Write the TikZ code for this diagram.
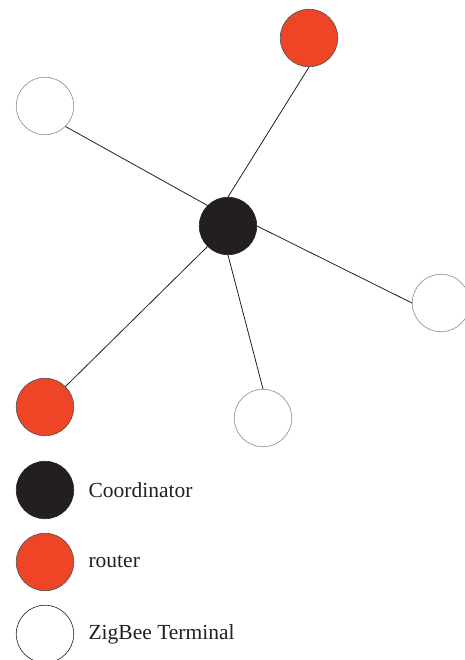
\documentclass[tikz,border=0pt]{standalone}
\usepackage{fontspec}
\setmainfont{Liberation Serif}
\usepackage{tikz}
\usetikzlibrary{positioning}

\definecolor{coordblack}{HTML}{231F20}
\definecolor{routerred}{HTML}{EF4527}

\begin{document}
\begin{tikzpicture}[
  x=1pt, y=-1pt,
  dev/.style={circle, minimum size=57.5pt, inner sep=0pt, line width=0.6pt},
  coord/.style={dev, draw=coordblack, fill=coordblack},
  router/.style={dev, draw=black!70, fill=routerred},
  term/.style={dev, draw=black!45, fill=white},
  link/.style={draw=coordblack, line width=0.8pt},
  lbl/.style={font=\fontsize{21.5}{25}\selectfont, text=coordblack, anchor=west},
]
  \useasboundingbox (0,0) rectangle (464,660);

  \node[coord]  (c)  at (228,226) {};
  \node[router] (r1) at (309,38)  {};
  \node[router] (r2) at (45,407)  {};
  \node[term]   (t1) at (45,106)  {};
  \node[term]   (t2) at (441,303) {};
  \node[term]   (t3) at (263,418) {};

  \draw[link] (c.north)      -- (r1.south);
  \draw[link] (c.south west) -- (r2.north east);
  \draw[link] (c.north west) -- (t1.south east);
  \draw[link] (c.east)       -- (t2.west);
  \draw[link] (c.south)      -- (t3.north);

  % legend
  \node[coord]  (lc) at (45,490) {};
  \node[router] (lr) at (45,562) {};
  \node[term, draw=coordblack] (lt) at (45,634) {};
  \node[lbl, right=11pt of lc] {Coordinator};
  \node[lbl, right=11pt of lr] {router};
  \node[lbl, right=11pt of lt] {ZigBee Terminal};
\end{tikzpicture}
\end{document}
